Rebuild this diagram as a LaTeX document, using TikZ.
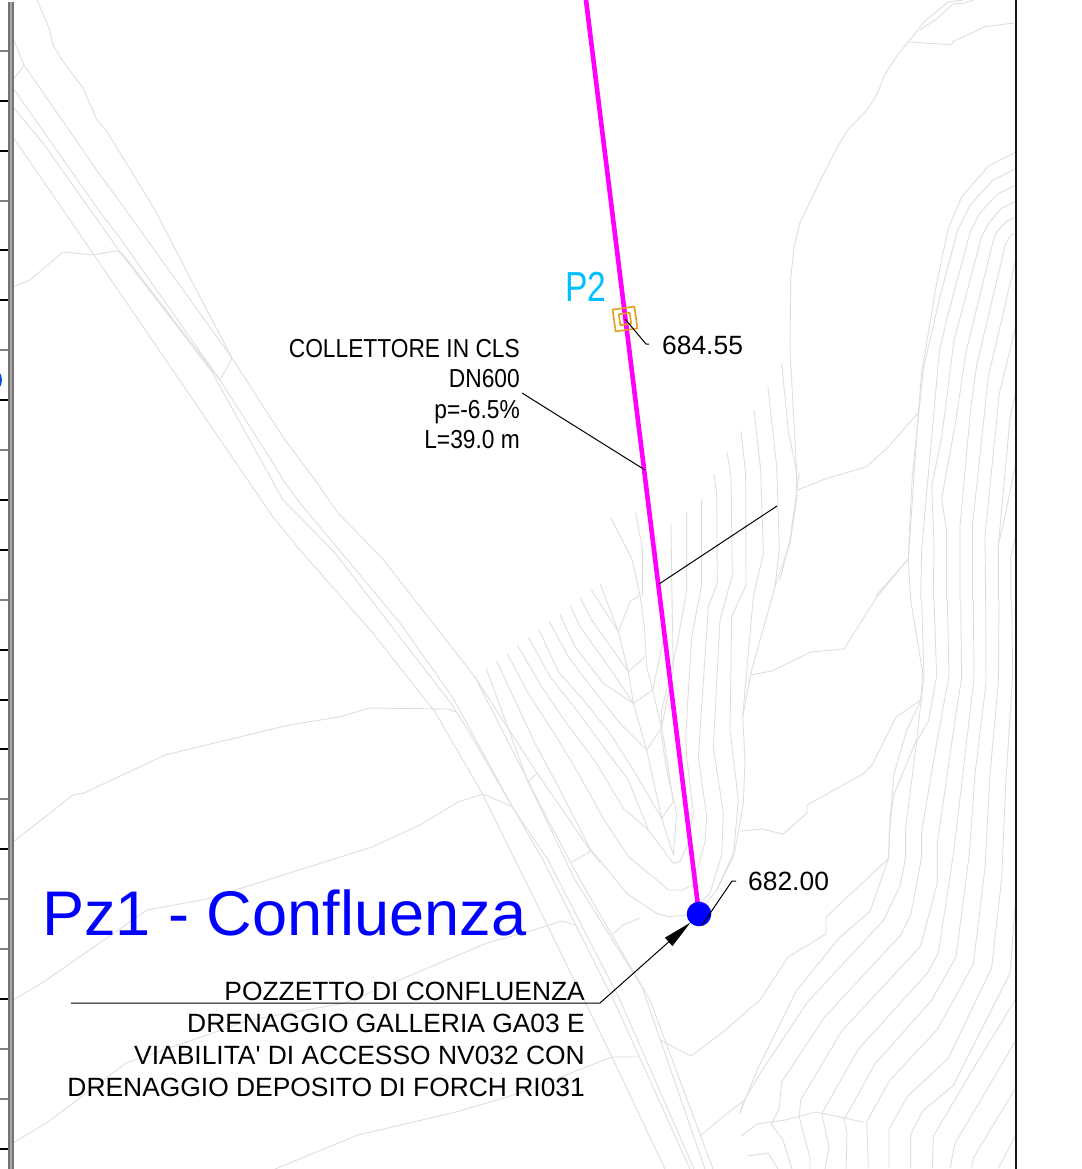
\documentclass[tikz,border=0pt]{standalone}
\usepackage{fontspec}
\setmainfont{Liberation Sans}
\newfontfamily\condfont[FakeStretch=0.875]{Liberation Sans}
\newfontfamily\markfont[FakeStretch=0.8]{Liberation Sans}
\usetikzlibrary{arrows.meta,shapes.geometric}
\definecolor{terraingrey}{RGB}{222,222,222}
\definecolor{pipemagenta}{RGB}{255,0,255}
\definecolor{wellblue}{RGB}{0,0,255}
\definecolor{markcyan}{RGB}{0,191,255}
\definecolor{markorange}{RGB}{226,160,30}
\tikzset{
    terrain/.style={draw=terraingrey, line width=0.9pt, line join=round},
    leader/.style={draw=black, line width=1pt},
    pipe/.style={draw=pipemagenta, line width=4.6pt},
    elevlabel/.style={font=\fontsize{26.4}{32}\selectfont, inner sep=0pt, anchor=base west},
    notelabel/.style={font=\condfont\fontsize{26}{30.5}\selectfont, inner sep=0pt, align=right, anchor=north east},
    welllabel/.style={font=\fontsize{26.4}{32}\selectfont, inner sep=0pt, align=right, anchor=north east},
    marksquare/.style={draw=markorange, line width=1.6pt, rectangle, rotate=8, inner sep=0pt}
}
\newcommand{\traceline}[1]{\draw[terrain] plot coordinates {#1};}

\begin{document}
\begin{tikzpicture}[x=1pt, y=-1pt]
    \useasboundingbox (0,0) rectangle (1081,1169);

    \traceline{(37,0) (49,28) (53,45) (62,60) (83,88) (97,120) (106,130) (155,210) (200,297) (232,358) (283,437) (315,480) (338,513) (382,558) (475,677) (537,773) (590,850) (600,863)}
    \traceline{(13,38) (24,65) (100,175) (120,202) (232,358)}
    \traceline{(13,80) (24,65)}
    \traceline{(13,88) (100,212) (120,238) (220,380) (273,463) (285,483) (300,503) (400,623) (453,698) (513,808) (548,860) (620,1000) (694,1169)}
    \traceline{(13,107) (43,143) (120,252) (212,372) (283,500) (300,517) (335,553) (450,702) (468,730) (543,860) (615,1003) (690,1169)}
    \traceline{(13,137) (120,293) (273,517) (300,550) (372,632) (435,712) (482,793) (525,880) (612,1057) (665,1169)}
    \traceline{(13,287) (30,280) (63,252) (93,255) (115,251) (122,253) (220,380)}
    \traceline{(220,380) (232,358)}
    \traceline{(475,677) (548,820) (580,880) (650,1000) (713,1169)}
    \traceline{(486,668) (528,782) (575,880) (642,987) (705,1169)}
    \traceline{(528,782) (537,773)}
    \traceline{(572,862) (588,853) (590,850)}
    \traceline{(612,935) (623,925) (640,918)}

    \traceline{(13,842) (73,795) (84,793) (165,755) (289,725) (339,717) (370,708) (448,709) (456,712)}
    \traceline{(13,1000) (42,983) (147,910) (207,899) (245,887) (372,847) (420,825) (458,802) (483,794) (513,807)}
    \traceline{(13,1143) (48,1122) (126,1063) (250,1020) (345,1003) (487,943) (527,932) (562,921) (575,925)}
    \traceline{(275,1169) (358,1135) (456,1112) (520,1093) (612,1057) (638,1057)}

    \begin{scope}[shift={(460,480)}, scale=1/3]
        \traceline{(110,543) (225,790) (300,930) (390,1105) (500,1240) (590,1300) (625,1310) (690,1305)}
        \traceline{(141,520) (205,640) (295,780) (355,880) (430,1015) (505,1130) (605,1212) (625,1230) (665,1230) (700,1215)}
        \traceline{(172,495) (245,620) (320,730) (410,850) (490,985) (565,1050) (640,1150) (660,1145) (680,1100)}
        \traceline{(205,472) (270,590) (350,690) (430,800) (505,900) (565,1050)}
        \traceline{(236,447) (295,575) (370,660) (450,760) (520,870) (605,1015)}
        \traceline{(268,425) (325,530) (385,610) (480,730) (560,810)}
        \traceline{(299,402) (345,500) (430,610) (520,670)}
        \traceline{(331,378) (360,440) (460,580) (520,670)}
        \traceline{(362,355) (395,420) (505,575)}
        \traceline{(394,330) (475,455)}
        \traceline{(420,310) (475,455) (505,575) (520,670) (560,810) (605,1015) (640,1125) (650,1000)}
        \traceline{(475,455) (510,365) (540,345)}
        \traceline{(505,575) (555,530)}
        \traceline{(520,670) (578,630)}
        \traceline{(560,810) (600,750)}
        \traceline{(605,1015) (640,965)}
        \traceline{(452,112) (515,235) (540,345) (553,440) (560,560) (578,630) (610,770) (640,965)}
        \traceline{(527,97) (547,205) (547,345)}
        \traceline{(590,170) (592,300) (610,480) (578,630)}
        \traceline{(633,130) (635,300) (640,570) (603,750)}
        \traceline{(680,95) (680,330) (650,500) (605,690) (603,760) (620,870) (650,1000)}
        \traceline{(725,57) (725,315) (695,470) (677,770) (680,830) (700,1000) (680,1100)}
        \traceline{(762,-18) (770,40) (772,310) (745,380) (715,830) (740,1010) (735,1085) (700,1215)}
        \traceline{(801,-84) (813,-10) (817,285) (780,420) (760,800) (790,1000) (785,1125) (750,1240) (720,1270)}
        \traceline{(843,-147) (857,-20) (858,315) (815,410) (810,750) (835,960) (820,1130) (770,1230)}
        \traceline{(882,-210) (902,-30) (910,220) (880,350) (848,710) (855,840) (850,970) (825,1110) (770,1230) (730,1280)}
        \traceline{(924,-276) (950,-40) (958,205) (945,320) (875,570) (848,710)}
        \traceline{(1012,45) (990,190) (945,320)}
    \end{scope}

    \begin{scope}[shift={(780,0)}, xscale=1/3, yscale=1/2.63]
        \traceline{(385,110) (435,55) (505,5) (550,0)}
        \traceline{(420,78) (470,50) (520,10) (555,8) (580,0)}
        \traceline{(385,110) (515,118) (518,110) (615,70) (708,60)}
        \traceline{(385,110) (352,145) (315,195) (295,240) (265,285) (205,340) (170,390) (115,485) (58,590) (42,650) (32,735) (30,920) (50,1240) (50,1290) (30,1420) (0,1525)}
        \traceline{(5,955) (25,1135) (50,1240)}
        \traceline{(50,1290) (58,1245)}
        \traceline{(50,1290) (135,1260) (258,1228) (320,1180) (415,1085)}
        \traceline{(708,400) (625,437) (545,518) (505,600) (470,745) (425,980) (415,1085) (385,1470) (392,1578)}
        \traceline{(708,443) (637,475) (570,540) (533,605) (480,780) (430,970) (397,1250) (388,1400) (385,1470)}
        \traceline{(708,487) (653,510) (598,562) (570,612) (500,840) (478,925) (455,1150) (425,1445) (422,1578)}
        \traceline{(708,530) (665,547) (628,585) (605,622) (522,895) (485,1150) (455,1280) (462,1425) (460,1578)}
        \traceline{(708,570) (680,582) (650,610) (640,632) (558,925) (527,1110) (485,1310) (500,1400) (500,1578)}
        \traceline{(708,615) (693,618) (677,640) (590,960) (572,1075) (540,1385) (540,1578)}
        \traceline{(708,680) (625,990) (577,1385) (577,1578)}
        \traceline{(708,855) (658,1035) (615,1410) (617,1578)}
        \traceline{(708,1030) (690,1100) (655,1435) (655,1578)}
        \traceline{(708,1215) (672,1370) (653,1440)}
        \traceline{(708,1405) (692,1465) (692,1578)}
        \traceline{(385,1470) (287,1568)}
    \end{scope}

    \begin{scope}[shift={(700,600)}, xscale=1/3, yscale=1/2.76]
        \traceline{(632,0) (668,200) (662,278) (620,360) (582,480) (570,610) (566,712) (510,860) (418,932) (288,1080) (170,1300) (120,1415)}
        \traceline{(665,0) (672,210) (650,385) (580,540) (568,640) (566,712)}
        \traceline{(702,0) (710,210) (685,335) (650,390) (617,630) (617,710) (600,790) (550,885) (322,1110) (185,1300) (133,1380) (120,1415)}
        \traceline{(742,0) (747,210) (710,395) (665,640) (665,710) (632,870) (602,925) (375,1150) (245,1330) (237,1405) (212,1450)}
        \traceline{(782,0) (785,215) (770,300) (712,670) (712,780) (662,955) (425,1190) (302,1380) (298,1425)}
        \traceline{(820,0) (822,215) (762,690) (715,975) (682,1030) (475,1240) (365,1418)}
        \traceline{(857,0) (858,230) (825,480) (808,700) (768,985) (695,1105) (525,1280) (435,1430)}
        \traceline{(897,0) (895,230) (870,480) (855,740) (820,1005) (712,1185) (570,1325) (500,1440) (505,1568)}
        \traceline{(935,0) (938,215) (918,490) (905,770) (875,1015) (745,1265) (622,1370) (567,1460) (567,1568)}
        \traceline{(948,815) (930,1030) (760,1340) (668,1410) (632,1475) (632,1568)}
        \traceline{(948,1100) (822,1290) (700,1480) (697,1568)}
        \traceline{(948,1215) (765,1500) (750,1568)}
        \traceline{(948,1345) (820,1540) (815,1568)}
        \traceline{(948,1475) (895,1568)}
    \end{scope}

    \traceline{(751,675) (772,671) (811,652) (844,649) (876,598) (908,559)}
    \traceline{(740,831) (762,829) (783,834) (807,813) (807,805) (863,774) (872,765) (896,717) (921,700)}
    \traceline{(660,1040) (691,1056) (723,1032) (760,1000) (788,957) (826,934) (826,917) (889,858)}
    \traceline{(700,1136) (730,1111) (745,1100)}
    \traceline{(741,1136) (757,1124) (785,1120) (816,1112) (863,1122)}
    \traceline{(771,1124) (783,1140) (792,1169)}
    \traceline{(799,1116) (810,1158) (810,1169)}
    \traceline{(822,1114) (829,1147) (825,1169)}
    \traceline{(844,1118) (847,1133) (846,1169)}
    \traceline{(747,1156) (768,1153) (778,1169)}

    \fill[black!55] (8,2) rectangle (13.5,1169);
    \fill[black!35] (9.5,2) rectangle (12,1169);
    \foreach \tick/\shade in {51/gray,101/black,151/black,201/gray,250/black,300/black,350/gray,400/black,450/gray,500/black,550/black,600/gray,650/black,700/black,749/black,799/gray,849/black,899/gray,949/gray,999/black,1049/gray,1099/gray,1149/black}{
        \draw[\shade, line width=1.4pt] (0,\tick) -- (8,\tick);
    }
    \fill[blue!60!cyan!80!black] (0,373) .. controls (2.5,376) and (2.5,384) .. (0,387) -- cycle;
    \draw[black!90, line width=1.1pt] (1016,0) -- (1016,1169);

    \coordinate (pipetop) at (586,0);
    \node[circle, minimum size=24pt, inner sep=0pt] (pz) at (699,914) {};
    \draw[pipe] (pipetop) -- (pz.center);
    \fill[wellblue] (pz) circle (12.3);

    \node[marksquare, minimum size=22pt] (pouter) at (625,319) {};
    \node[marksquare, minimum size=11pt] (pinner) at (625,319) {};
    \node[font=\markfont\fontsize{42}{42}\selectfont, text=markcyan, inner sep=0pt, anchor=base west] (ptwo) at (565,301) {P2};

    \node[elevlabel] (elevtwo) at (662,354) {684.55};
    \coordinate (elevtwotail) at (649,344);
    \draw[leader] (pinner.center) -- (646,344) -- (elevtwotail);

    \node[elevlabel] (elevone) at (748,890) {682.00};
    \coordinate (elevonetail) at (736,881);
    \draw[leader] (pz.south) ++(3,-1) -- (732,881) -- (elevonetail);

    \node[notelabel] (pipenote) at (520,339) {COLLETTORE IN CLS\\DN600\\p=-6.5\%\\L=39.0 m};
    \coordinate (pipenotetail) at (522,393);
    \coordinate (pipehit) at (645,470);
    \draw[leader] (pipenotetail) -- (pipehit);

    \coordinate (freeend) at (777,506);
    \coordinate (freehit) at (659,584);
    \draw[leader] (freeend) -- (freehit);

    \node[font=\fontsize{63.1}{70}\selectfont, text=wellblue, inner sep=0pt, anchor=base west] (pztitle) at (42,935) {Pz1 - Confluenza};

    \node[welllabel] (wellnote) at (585,982) {POZZETTO DI CONFLUENZA\\DRENAGGIO GALLERIA GA03 E\\VIABILITA\textquotesingle{} DI ACCESSO NV032 CON\\DRENAGGIO DEPOSITO DI FORCH RI031};
    \coordinate (wellstart) at (71,1003);
    \coordinate (wellbend) at (600,1003);
    \draw[leader, -{Triangle[length=29pt, width=11pt]}] (wellstart) -- (wellbend) -- (pz.south west);
\end{tikzpicture}
\end{document}
